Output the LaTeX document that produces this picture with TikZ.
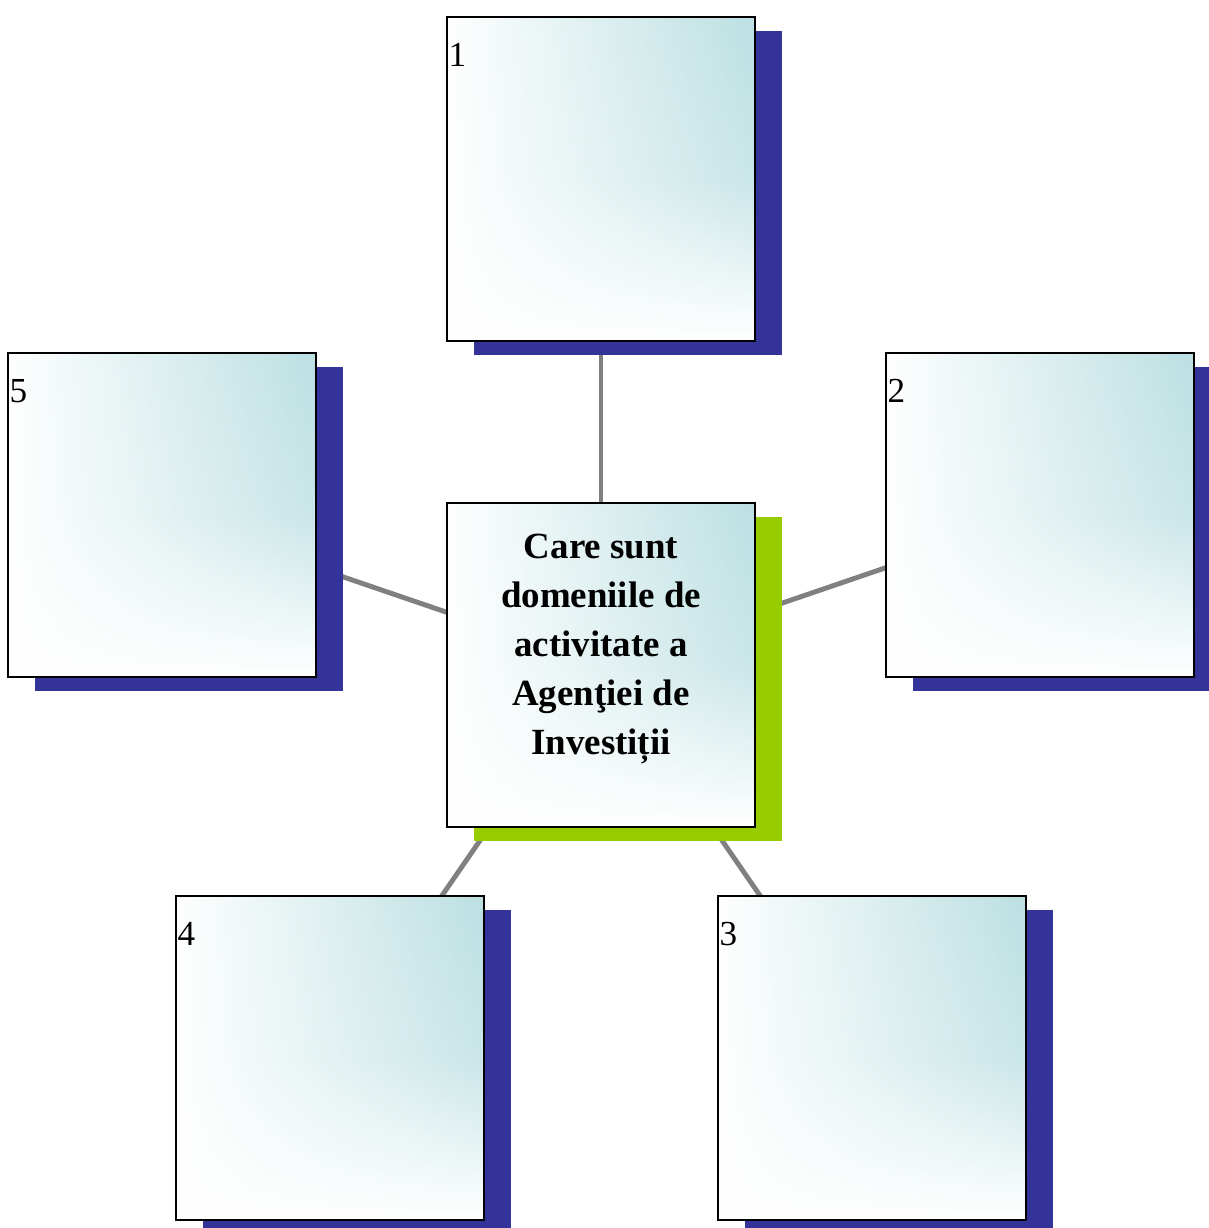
\documentclass[tikz,border=0pt]{standalone}
\usepackage{fontspec}
\setmainfont{Liberation Serif}
\usetikzlibrary{shadows,backgrounds,fadings}
\definecolor{tealc}{RGB}{188,224,226}
\definecolor{navy}{RGB}{51,51,153}
\definecolor{limec}{RGB}{153,204,0}
\definecolor{linkc}{RGB}{128,128,128}
\begin{document}
\begin{tikzpicture}[x=0.01cm, y=-0.01cm,
    box/.style={fill=white, inner sep=0pt, outer sep=0pt,
        minimum width=3.08cm, minimum height=3.24cm,
        postaction={shade, top color=tealc, bottom color=white,
            middle color=tealc!80, path fading=west},
        postaction={draw=black, line width=0.6pt}},
    blueshadow/.style={copy shadow={draw=none, fill=navy,
        shadow xshift=0.27cm, shadow yshift=-0.14cm}},
    greenshadow/.style={copy shadow={draw=none, fill=limec,
        shadow xshift=0.27cm, shadow yshift=-0.14cm}},
    num/.style={anchor=base west, inner sep=0pt, font=\fontsize{10}{12}\selectfont},
    link/.style={draw=linkc, line width=1.4pt}]
    \useasboundingbox (0, 0) rectangle (1208, 1228);
    % boxes
    \node[box, greenshadow] (mid) at (601, 665) {};
    \node[box, blueshadow] (b1) at (601, 179) {};
    \node[box, blueshadow] (b2) at (1040, 515) {};
    \node[box, blueshadow] (b3) at (872, 1058) {};
    \node[box, blueshadow] (b4) at (330, 1058) {};
    \node[box, blueshadow] (b5) at (162, 515) {};
    % numbers
    \node[num] (n1) at ([xshift=0.01cm, yshift=-0.5cm]b1.north west) {1};
    \node[num] (n2) at ([xshift=0.01cm, yshift=-0.5cm]b2.north west) {2};
    \node[num] (n3) at ([xshift=0.01cm, yshift=-0.5cm]b3.north west) {3};
    \node[num] (n4) at ([xshift=0.01cm, yshift=-0.5cm]b4.north west) {4};
    \node[num] (n5) at ([xshift=0.01cm, yshift=-0.5cm]b5.north west) {5};
    \node[anchor=north, inner sep=0pt, align=center,
          font=\fontsize{10.5}{13.95}\selectfont\bfseries] (q)
        at ([yshift=-0.3cm]mid.north)
        {Care sunt\\domeniile de\\activitate a\\Agenţiei de\\Investiții};
    % links
    \begin{scope}[on background layer]
        \draw[link] (mid.center) -- (b1.center);
        \draw[link] (mid.center) -- (b2.center);
        \draw[link] (mid.center) -- (b3.center);
        \draw[link] (mid.center) -- (b4.center);
        \draw[link] (mid.center) -- (b5.center);
    \end{scope}
\end{tikzpicture}
\end{document}
